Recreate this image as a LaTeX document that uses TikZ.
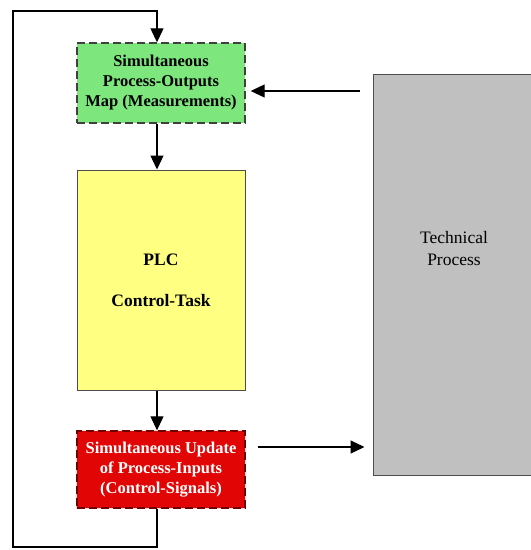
\documentclass[tikz,border=0pt]{standalone}
\usepackage{fontspec}
\setmainfont{Liberation Serif}
\usetikzlibrary{arrows.meta}
\definecolor{boxgreen}{RGB}{125,230,125}
\definecolor{boxyellow}{RGB}{255,255,130}
\definecolor{boxred}{RGB}{225,5,5}
\definecolor{boxgray}{RGB}{192,192,192}
\definecolor{darkred}{RGB}{110,0,0}
\begin{document}
\begin{tikzpicture}[x=1pt,y=-1pt,
  box/.style={rectangle,inner sep=0pt,align=center,font=\fontsize{16.5}{20}\selectfont\bfseries},
  dashbox/.style={box,line width=1.4pt,dash pattern=on 8pt off 4pt},
  solidbox/.style={box,draw=black!70,line width=1pt},
  lbl/.style={align=center,inner sep=0pt},
  arr/.style={line width=1.2pt,-{Triangle[length=14pt,width=13pt]}}]
\useasboundingbox (0,0) rectangle (531,550);
\fill[white] (0,0) rectangle (531,550);
\begin{scope}
\clip (0,0) rectangle (531,550);
\node[solidbox,fill=boxgray,minimum width=162pt,minimum height=401pt] (gray) at (454,274.5) {};
\end{scope}
\node[lbl,font=\fontsize{17.5}{22}\selectfont] (graylbl) at (454,249) {Technical\\Process};
\node[dashbox,draw=black!75,fill=boxgreen,minimum width=168pt,minimum height=80pt] (green) at (161,83) {Simultaneous\\Process-Outputs\\Map (Measurements)};
\node[solidbox,fill=boxyellow,minimum width=168pt,minimum height=220pt,font=\fontsize{17.5}{41}\selectfont\bfseries] (yellow) at (161,280) {PLC\\Control-Task};
\node[dashbox,draw=darkred,fill=boxred,text=white,minimum width=168pt,minimum height=77pt,
  preaction={draw=white!85!red,line width=1.4pt,solid}] (red) at (161,469.5) {Simultaneous Update\\of Process-Inputs\\(Control-Signals)};
\coordinate (tl) at (13,11);
\coordinate (bl) at (13,547);
\coordinate (inrow) at (0,91);
\coordinate (outrow) at (0,447);
\draw[arr] ([xshift=-4pt]green.south) -- ([xshift=-4pt]yellow.north);
\draw[arr] ([xshift=-4pt]yellow.south) -- ([xshift=-4pt]red.north);
\draw[arr] ([xshift=-4pt]red.south) |- (bl) -- (tl) -| ([xshift=-4pt]green.north);
\draw[arr] ([xshift=-13pt]gray.west |- inrow) -- ([xshift=5pt]green.east |- inrow);
\draw[arr] ([xshift=12pt]red.east |- outrow) -- ([xshift=-8pt]gray.west |- outrow);
\end{tikzpicture}
\end{document}
